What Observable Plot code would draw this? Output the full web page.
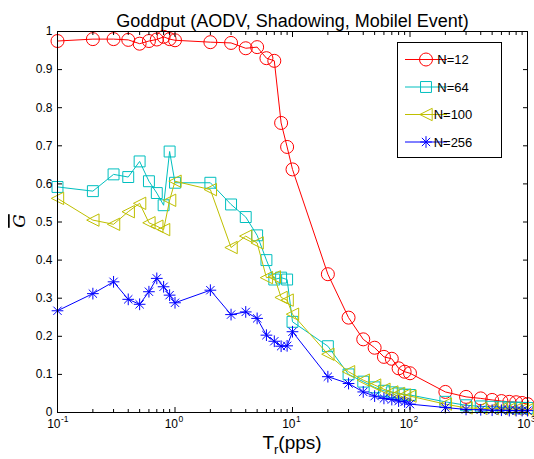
<!DOCTYPE html>
<html>
<head>
<meta charset="utf-8">
<script src="https://cdn.jsdelivr.net/npm/d3@7"></script>
<script src="https://cdn.jsdelivr.net/npm/@observablehq/plot@0.6"></script>
<style>
  body { margin: 0; background: #fff; }
  #chart { width: 534px; height: 459px; }
</style>
</head>
<body>
<div id="chart"></div>
<script>
// ---- data ----
const titleText = "Goddput (AODV, Shadowing, Mobilel Event)";
const xValues = [0.1,0.2,0.3,0.4,0.5,0.6,0.7,0.8,0.9,1,
                 2,3,4,5,6,7,8,9,10,
                 20,30,40,50,60,70,80,90,100,
                 200,300,400,500,600,700,800,900,1000];
const seriesLabels = ["N=12", "N=64", "N=100", "N=256"];
const g12 = [0.975,0.980,0.980,0.978,0.968,0.975,0.979,0.986,0.980,0.977,
             0.972,0.970,0.956,0.959,0.930,0.923,0.760,0.697,0.638,
             0.363,0.249,0.192,0.170,0.146,0.141,0.116,0.107,0.103,
             0.054,0.041,0.037,0.033,0.030,0.028,0.027,0.025,0.022];
const g64 = [0.592,0.581,0.625,0.618,0.659,0.607,0.576,0.544,0.685,0.603,
             0.603,0.546,0.513,0.465,0.400,0.349,0.354,0.349,0.238,
             0.174,0.100,0.081,0.066,0.057,0.053,0.050,0.047,0.046,
             0.028,0.019,0.016,0.015,0.014,0.013,0.013,0.012,0.012];
const g100 = [0.562,0.505,0.494,0.527,0.549,0.498,0.489,0.480,0.557,0.607,
              0.585,0.433,0.463,0.445,0.354,0.356,0.302,0.295,0.258,
              0.153,0.107,0.085,0.072,0.061,0.054,0.050,0.046,0.043,
              0.022,0.012,0.011,0.010,0.010,0.009,0.009,0.008,0.008];
const g256 = [0.267,0.312,0.343,0.297,0.284,0.317,0.352,0.330,0.308,0.288,
              0.321,0.257,0.264,0.247,0.203,0.187,0.174,0.175,0.212,
              0.094,0.076,0.054,0.043,0.037,0.034,0.030,0.028,0.022,
              0.013,0.008,0.007,0.006,0.006,0.005,0.005,0.005,0.005];
const seriesColors = ["#ff0000", "#00bfbf", "#bfbf00", "#0000ff"];
const yTicks = [0,0.1,0.2,0.3,0.4,0.5,0.6,0.7,0.8,0.9,1];
const xMajorTicks = [0.1,1,10,100,1000];
const xExponents = ["-1","0","1","2","3"];

// ---- symbols (MATLAB-like markers) ----
const symSquare = {draw(ctx, size) { const r = Math.sqrt(size / Math.PI), h = r * 0.84; ctx.moveTo(-h,-h); ctx.lineTo(h,-h); ctx.lineTo(h,h); ctx.lineTo(-h,h); ctx.closePath(); }};
const symTriLeft = {draw(ctx, size) { const r = Math.sqrt(size / Math.PI), h = r * 0.95; ctx.moveTo(-h,0); ctx.lineTo(h,-h); ctx.lineTo(h,h); ctx.closePath(); }};
const symStar = {draw(ctx, size) { const r = Math.sqrt(size / Math.PI), a = r * 0.9, d = a * Math.SQRT1_2;
  ctx.moveTo(-a,0); ctx.lineTo(a,0); ctx.moveTo(0,-a); ctx.lineTo(0,a);
  ctx.moveTo(-d,-d); ctx.lineTo(d,d); ctx.moveTo(-d,d); ctx.lineTo(d,-d); }};
const symbols = [d3.symbolCircle, symSquare, symTriLeft, symStar];

const seriesValues = [g12, g64, g100, g256];
const series = seriesLabels.map((label, k) => ({
  label, color: seriesColors[k], symbol: symbols[k],
  rows: xValues.map((x, i) => ({x, y: seriesValues[k][i]}))
}));

const xMinorTicks = [];
for (const dec of [0.1, 1, 10, 100]) for (let k = 2; k <= 9; k++) xMinorTicks.push(+(dec * k).toPrecision(3));

const FONT = "'Liberation Sans', Arial, Helvetica, sans-serif";
const R = 6.5;

const marks = [];
for (const s of series) {
  marks.push(Plot.line(s.rows, {x: "x", y: "y", stroke: s.color, strokeWidth: 1}));
  marks.push(Plot.dot(s.rows, {x: "x", y: "y", stroke: s.color, fill: "none", symbol: s.symbol, r: R, strokeWidth: 1}));
}

const chart = Plot.plot({
  width: 534,
  height: 459,
  marginLeft: 57,
  marginRight: 7,
  marginTop: 31,
  marginBottom: 47,
  style: {fontFamily: FONT, fontSize: "12px", color: "black", background: "white", overflow: "visible"},
  x: {type: "log", domain: [0.1, 1000]},
  y: {domain: [0, 1]},
  marks: [
    ...marks,
    Plot.frame({stroke: "black", strokeWidth: 1}),
    // inward ticks
    Plot.axisX(xMajorTicks, {anchor: "bottom", tickSize: -5, tickFormat: () => "", label: null}),
    Plot.axisX(xMajorTicks, {anchor: "top", tickSize: -5, tickFormat: () => "", label: null}),
    Plot.axisX(xMinorTicks, {anchor: "bottom", tickSize: -3, tickFormat: () => "", label: null}),
    Plot.axisX(xMinorTicks, {anchor: "top", tickSize: -3, tickFormat: () => "", label: null}),
    Plot.axisY(yTicks, {anchor: "left", tickSize: -5, tickFormat: () => "", label: null}),
    Plot.axisY(yTicks, {anchor: "right", tickSize: -5, tickFormat: () => "", label: null}),
    // tick labels
    Plot.axisY(yTicks, {anchor: "left", tickSize: 0, tickPadding: 5, tickFormat: d => String(+d.toFixed(1)), label: null, fontSize: 12}),
    Plot.text(xMajorTicks, {x: d => d, frameAnchor: "bottom", text: () => "10", dy: 15, dx: 3, textAnchor: "end", fontSize: 12}),
    Plot.text(xMajorTicks, {x: d => d, frameAnchor: "bottom", text: (d, i) => xExponents[i], dy: 9, dx: 3.5, textAnchor: "start", fontSize: 8.5}),
    // title
    Plot.text([titleText], {frameAnchor: "top", dy: -17, fontSize: 18})
  ]
});

document.getElementById("chart").append(chart);

const svg = d3.select(chart);
// x label with subscript
const xl = svg.append("text")
  .attr("x", 292).attr("y", 449)
  .attr("text-anchor", "middle")
  .attr("font-family", FONT)
  .attr("font-size", 19)
  .attr("fill", "black");
xl.append("tspan").text("T");
xl.append("tspan").attr("font-size", 13).attr("dy", 5).text("r");
xl.append("tspan").attr("dy", -5).text("(pps)");

// y label: G with overline
svg.append("text")
  .attr("transform", "translate(25,221) rotate(-90)")
  .attr("text-anchor", "middle")
  .attr("font-family", "'DejaVu Serif', 'Liberation Serif', serif")
  .attr("font-style", "italic")
  .attr("font-size", 17)
  .attr("fill", "black")
  .style("text-decoration", "overline")
  .text("G");

// legend
const lg = svg.append("g").attr("font-family", FONT).attr("font-size", 13);
lg.append("rect").attr("x", 397.5).attr("y", 42.5).attr("width", 104).attr("height", 115)
  .attr("fill", "white").attr("stroke", "black").attr("stroke-width", 1);
series.forEach((s, i) => {
  const y = 59.5 + i * 27.5;
  lg.append("line").attr("x1", 405).attr("x2", 447).attr("y1", y).attr("y2", y)
    .attr("stroke", s.color).attr("stroke-width", 1);
  lg.append("path").attr("transform", `translate(426,${y})`)
    .attr("d", d3.symbol(s.symbol, Math.PI * R * R)())
    .attr("fill", "none").attr("stroke", s.color).attr("stroke-width", 1);
  lg.append("text").attr("x", 453).attr("y", y).attr("dy", "0.35em").attr("fill", "black").text(s.label);
});
</script>
</body>
</html>
